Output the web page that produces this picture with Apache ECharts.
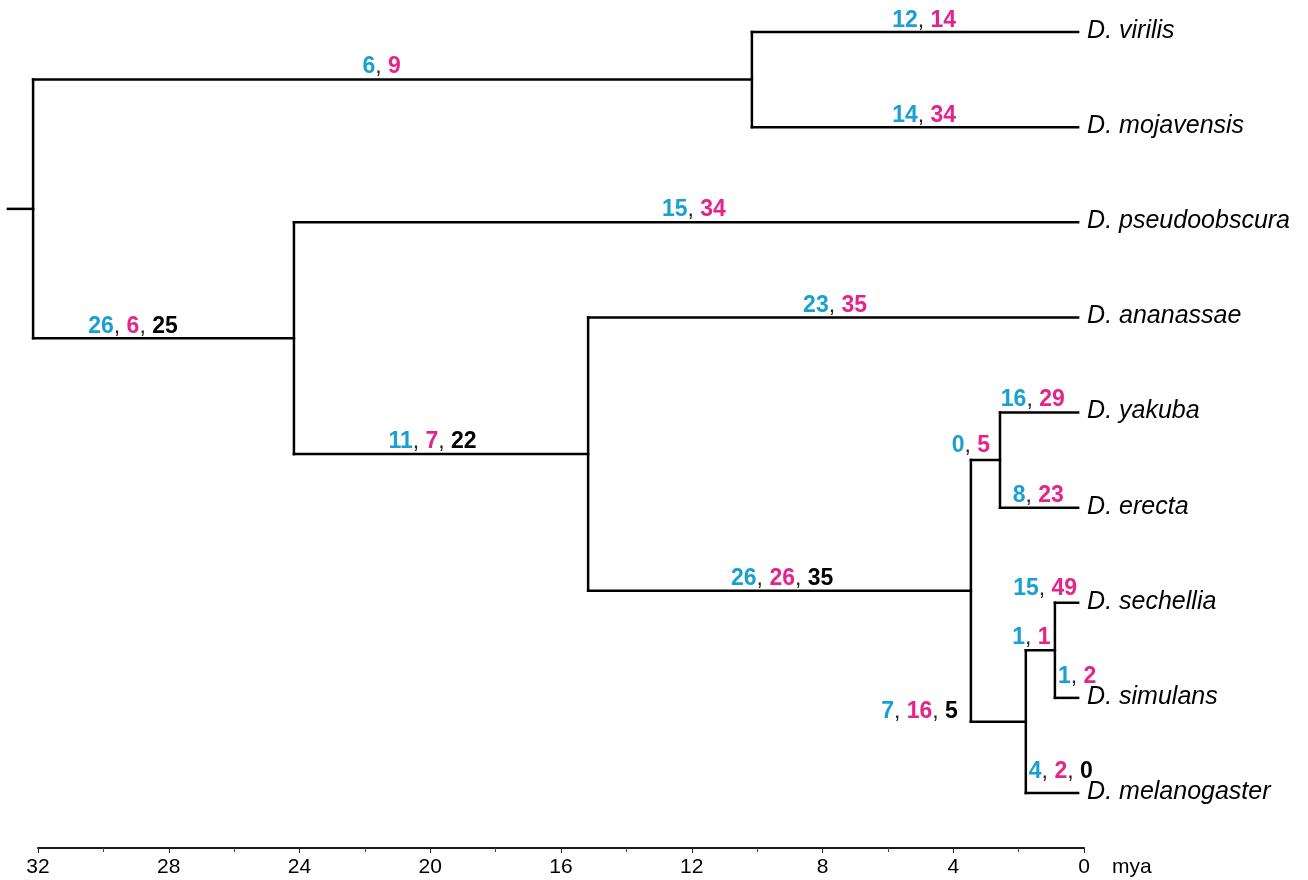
<!DOCTYPE html>
<html>
<head>
<meta charset="utf-8">
<script src="https://cdn.jsdelivr.net/npm/echarts@6/dist/echarts.min.js"></script>
<style>
html,body{margin:0;padding:0;background:#fff;}
#chart{width:1308px;height:880px;}
</style>
</head>
<body>
<div id="chart"></div>
<script>
// ---------- DATA ----------
const leafNames = ['D. virilis', 'D. mojavensis', 'D. pseudoobscura', 'D. ananassae',
  'D. yakuba', 'D. erecta', 'D. sechellia', 'D. simulans', 'D. melanogaster'];
const internalNames = ['root', 'virMoj', 'sophophora', 'melGroup', 'melSubgroup',
  'yakEre', 'melSimSec', 'simSec'];
const nodeNames = internalNames.concat(leafNames);
const nodeParents = [null, 'root', 'root', 'sophophora', 'melGroup', 'melSubgroup',
  'melSubgroup', 'melSimSec',
  'virMoj', 'virMoj', 'sophophora', 'melGroup', 'yakEre', 'yakEre', 'simSec', 'simSec', 'melSimSec'];
// node ages (million years ago)
const nodeAges = [32.15, 10.16, 24.17, 15.17, 3.46, 2.57, 1.78, 0.89,
  0.18, 0.18, 0.18, 0.18, 0.18, 0.18, 0.18, 0.18, 0.18];
const rootStubAge = 32.92;
// counts on the branch leading to each node
const blueCounts  = [null, 6, 26, 11, 26, 0, 7, 1, 12, 14, 15, 23, 16, 8, 15, 1, 4];
const pinkCounts  = [null, 9, 6, 7, 26, 5, 16, 1, 14, 34, 34, 35, 29, 23, 49, 2, 2];
const blackCounts = [null, null, 25, 22, 35, null, 5, null, null, null, null, null, null, null, null, null, 0];
const axisTicks = [32, 28, 24, 20, 16, 12, 8, 4, 0];
const axisUnit = 'mya';

// ---------- LAYOUT (label placement: align, fraction along branch, dx px, dy px) ----------
const labelLayout = {
  virMoj:        ['center', 0.485, 0, -12.5],
  sophophora:    ['center', 0.383, 0, -11.5],
  melGroup:      ['center', 0.471, 0, -12],
  melSubgroup:   ['center', 0.507, 0, -12.5],
  yakEre:        ['center', 0, 0, -14],
  melSimSec:     ['right', 0, -13, -10.5],
  simSec:        ['center', 0.19, 0, -13],
  'D. virilis':      ['center', 0.528, 0, -11.5],
  'D. mojavensis':   ['center', 0.528, 0, -11.5],
  'D. pseudoobscura':['center', 0.51, 0, -13],
  'D. ananassae':    ['center', 0.504, 0, -11.5],
  'D. yakuba':       ['center', 0.42, 0, -13],
  'D. erecta':       ['center', 0.49, 0, -12],
  'D. sechellia':    ['right', 1, -1, -14],
  'D. simulans':     ['left', 0, 3, -21.5],
  'D. melanogaster': ['left', 0, 3, -21.5]
};

// cladogram y positions: leaves by order, internal nodes midway between extreme children
const nodeY = new Array(nodeNames.length);
const children = nodeNames.map(() => []);
nodeParents.forEach((p, i) => { if (p !== null) children[nodeNames.indexOf(p)].push(i); });
function computeY(i) {
  if (children[i].length === 0) {
    nodeY[i] = leafNames.indexOf(nodeNames[i]);
  } else {
    const ys = children[i].map(computeY);
    nodeY[i] = (Math.min(...ys) + Math.max(...ys)) / 2;
  }
  return nodeY[i];
}
computeY(0);

const FONT = '"Liberation Sans", Arial, Helvetica, sans-serif';
const BLUE = '#1a9fd3';
const PINK = '#e6228b';
const LBL = 23;

function renderItem(params, api) {
  const i = params.dataIndex;
  const age = nodeAges[i];
  const y = nodeY[i];
  const pIdx = nodeParents[i] === null ? -1 : nodeNames.indexOf(nodeParents[i]);
  const startAge = pIdx < 0 ? rootStubAge : nodeAges[pIdx];
  const p0 = api.coord([startAge, y]);
  const p1 = api.coord([age, y]);
  const lineStyle = { stroke: '#000', lineWidth: 2.5, lineCap: 'square' };
  const els = [];
  els.push({ type: 'line', shape: { x1: p0[0], y1: p0[1], x2: p1[0], y2: p1[1] }, style: lineStyle });
  if (children[i].length) {
    const ys = children[i].map(c => nodeY[c]);
    const a = api.coord([age, Math.min(...ys)]);
    const b = api.coord([age, Math.max(...ys)]);
    els.push({ type: 'line', shape: { x1: a[0], y1: a[1], x2: b[0], y2: b[1] }, style: lineStyle });
  } else {
    els.push({ type: 'text', style: {
      text: nodeNames[i], x: p1[0] + 9, y: p1[1] - 1, align: 'left', verticalAlign: 'middle',
      fill: '#000', fontSize: 25, fontStyle: 'italic', fontFamily: FONT } });
  }
  if (blueCounts[i] !== null) {
    let t = '{b|' + blueCounts[i] + '}{c|, }{p|' + pinkCounts[i] + '}';
    if (blackCounts[i] !== null) t += '{c|, }{k|' + blackCounts[i] + '}';
    const L = labelLayout[nodeNames[i]];
    const x = p0[0] + L[1] * (p1[0] - p0[0]) + L[2];
    els.push({ type: 'text', style: {
      text: t, x: x, y: p1[1] + L[3], align: L[0], verticalAlign: 'middle',
      fontSize: LBL, fontFamily: FONT,
      rich: {
        b: { fill: BLUE, fontSize: LBL, fontWeight: 'bold', fontFamily: FONT },
        p: { fill: PINK, fontSize: LBL, fontWeight: 'bold', fontFamily: FONT },
        k: { fill: '#000', fontSize: LBL, fontWeight: 'bold', fontFamily: FONT },
        c: { fill: '#222', fontSize: LBL, fontWeight: 'normal', fontFamily: FONT }
      } } });
  }
  return { type: 'group', children: els };
}

const chart = echarts.init(document.getElementById('chart'), null, { renderer: 'canvas' });
chart.setOption({
  animation: false,
  backgroundColor: '#fff',
  grid: { left: 38, right: 224, top: 32, bottom: 87, containLabel: false },
  xAxis: {
    type: 'value', min: 0, max: 32, interval: 4, inverse: true,
    position: 'bottom', offset: 55,
    name: axisUnit, nameLocation: 'start', nameGap: 28,
    nameTextStyle: { color: '#000', fontSize: 21, fontFamily: FONT, align: 'left', verticalAlign: 'top', padding: [9, 0, 0, 0] },
    axisLine: { show: true, onZero: false, lineStyle: { color: '#16163a', width: 2 } },
    axisTick: { show: true, inside: false, length: 5, lineStyle: { color: '#222', width: 1 } },
    minorTick: { show: true, splitNumber: 2, length: 4, lineStyle: { color: '#444', width: 1 } },
    axisLabel: { color: '#000', fontSize: 21, fontFamily: FONT, margin: 9,
      formatter: v => axisTicks.includes(v) ? String(v) : '' },
    splitLine: { show: false }, minorSplitLine: { show: false }
  },
  yAxis: { type: 'value', min: 0, max: 8, inverse: true, show: false },
  series: [{
    type: 'custom', renderItem: renderItem, clip: false, silent: true,
    data: nodeNames.map((n, i) => [nodeAges[i], nodeY[i]])
  }]
});
</script>
</body>
</html>
